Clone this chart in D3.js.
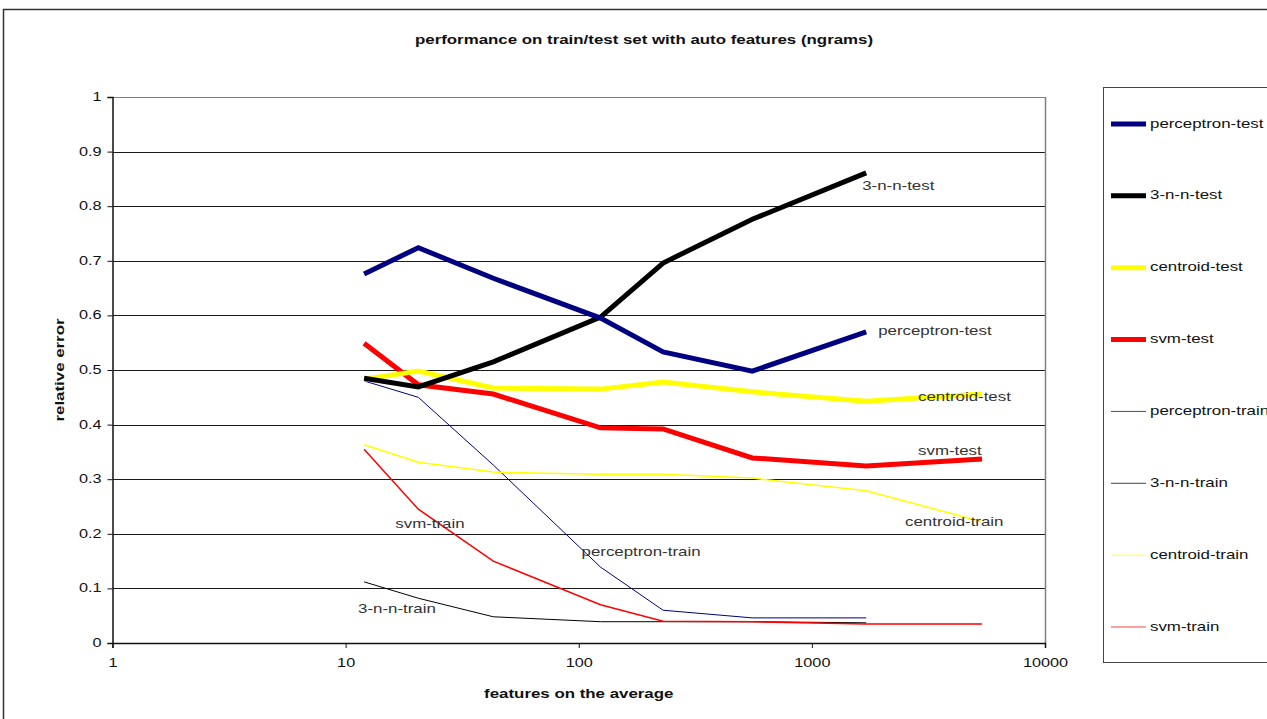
<!DOCTYPE html>
<html>
<head>
<meta charset="utf-8">
<script src="https://cdn.jsdelivr.net/npm/d3@7/dist/d3.min.js"></script>
<style>
  html, body { margin: 0; padding: 0; background: #fff; }
  svg { display: block; font-family: Arial, "Liberation Sans", sans-serif; }
</style>
</head>
<body>
<svg id="chart" width="1267" height="719"></svg>
<script>
// Average number of features per configuration (log scale on x)
const features = [12, 20.5, 43, 124, 230, 555, 1710, 5370];

// Relative error per classifier; null where the run was not made
const perceptronTest  = [0.676, 0.724, 0.668, 0.595, 0.533, 0.498, 0.570, null];
const knnTest         = [0.485, 0.469, 0.515, 0.597, 0.696, 0.776, 0.861, null];
const centroidTest    = [0.483, 0.498, 0.467, 0.465, 0.478, 0.460, 0.443, 0.456];
const svmTest         = [0.549, 0.473, 0.456, 0.394, 0.392, 0.339, 0.324, 0.337];
const perceptronTrain = [0.480, 0.450, 0.326, 0.139, 0.060, 0.046, 0.046, null];
const knnTrain        = [0.112, 0.082, 0.048, 0.039, 0.039, 0.039, 0.037, null];
const centroidTrain   = [0.363, 0.331, 0.313, 0.309, 0.309, 0.302, 0.279, 0.222];
const svmTrain        = [0.355, 0.245, 0.150, 0.070, 0.040, 0.039, 0.035, 0.035];

const seriesNames = ["perceptron-test", "3-n-n-test", "centroid-test", "svm-test",
                     "perceptron-train", "3-n-n-train", "centroid-train", "svm-train"];
const xTickValues = [1, 10, 100, 1000, 10000];
const yTickValues = [0, 0.1, 0.2, 0.3, 0.4, 0.5, 0.6, 0.7, 0.8, 0.9, 1];

const series = [
  { name: seriesNames[0], values: perceptronTest,  color: "#000080", width: 5 },
  { name: seriesNames[1], values: knnTest,         color: "#000000", width: 5 },
  { name: seriesNames[2], values: centroidTest,    color: "#ffff00", width: 5 },
  { name: seriesNames[3], values: svmTest,         color: "#ff0000", width: 5 },
  { name: seriesNames[4], values: perceptronTrain, color: "#000080", width: 1 },
  { name: seriesNames[5], values: knnTrain,        color: "#000000", width: 1 },
  { name: seriesNames[6], values: centroidTrain,   color: "#ffff00", width: 1.5 },
  { name: seriesNames[7], values: svmTrain,        color: "#ff0000", width: 1.5 }
];

// In-plot series labels: anchor point (data coords) plus pixel nudges
const inlineLabels = [
  { text: "3-n-n-test",       x: 1710, y: 0.861, dx: -4,  dy: 14 },
  { text: "perceptron-test",  x: 1710, y: 0.570, dx: 12,  dy: 0 },
  { text: "centroid-test",    x: 5370, y: 0.456, dx: -64, dy: 3 },
  { text: "svm-test",         x: 5370, y: 0.337, dx: -64, dy: -8 },
  { text: "centroid-train",   x: 5370, y: 0.222, dx: -77, dy: 1 },
  { text: "svm-train",        x: 20.5, y: 0.245, dx: -23, dy: 15 },
  { text: "perceptron-train", x: 124,  y: 0.139, dx: -19, dy: -15 },
  { text: "3-n-n-train",      x: 12,   y: 0.112, dx: -6,  dy: 28 }
];

// Text in this chart is set wide: Arial stretched horizontally
const STRETCH = 1.25;

const svg = d3.select("#chart");

// Outer chart frame
svg.append("rect")
  .attr("x", 3.5).attr("y", 9.5)
  .attr("width", 1300).attr("height", 730)
  .attr("fill", "none").attr("stroke", "#333").attr("stroke-width", 1.5);

const plot = { left: 112.5, right: 1045, top: 97, bottom: 643 };

const x = d3.scaleLog().domain([1, 10000]).range([plot.left, plot.right]);
const y = d3.scaleLinear().domain([0, 1]).range([plot.bottom, plot.top]);

// Place a stretched text item at (px, py)
function wideText(parent, px, py, str, opts = {}) {
  return parent.append("text")
    .attr("transform", `translate(${px},${py}) scale(${STRETCH},1)`)
    .attr("text-anchor", opts.anchor || "start")
    .attr("dominant-baseline", "middle")
    .attr("font-size", opts.size || 13)
    .attr("font-weight", opts.bold ? "bold" : null)
    .attr("fill", opts.fill || "#111")
    .text(str);
}

// Horizontal gridlines
svg.append("g")
  .selectAll("line")
  .data(yTickValues.filter(v => v > 0))
  .join("line")
  .attr("x1", plot.left).attr("x2", plot.right)
  .attr("y1", d => Math.round(y(d)) + 0.5).attr("y2", d => Math.round(y(d)) + 0.5)
  .attr("stroke", d => d === 1 ? "#808080" : "#1a1a1a")
  .attr("stroke-width", 1);

// Right edge of plot area
svg.append("line")
  .attr("x1", plot.right + 0.5).attr("x2", plot.right + 0.5)
  .attr("y1", plot.top).attr("y2", plot.bottom)
  .attr("stroke", "#808080").attr("stroke-width", 1.5);

// Y axis
const yAxis = d3.axisLeft(y).tickValues(yTickValues).tickSize(5).tickPadding(7)
  .tickFormat(d => d3.format("")(+d.toFixed(1)));
const gy = svg.append("g")
  .attr("transform", `translate(${plot.left},0)`)
  .call(yAxis);
gy.select(".domain").attr("stroke", "#111").attr("stroke-width", 1.5);
gy.selectAll(".tick line").attr("stroke", "#111");
gy.selectAll(".tick text")
  .attr("font-size", 13).attr("fill", "#111")
  .attr("font-family", "Arial, 'Liberation Sans', sans-serif")
  .attr("x", null).attr("dy", null)
  .attr("dominant-baseline", "middle")
  .attr("transform", `translate(-11,0) scale(${STRETCH},1)`);

// X axis
const xAxis = d3.axisBottom(x).tickValues(xTickValues).tickSize(5).tickPadding(9)
  .tickFormat(d3.format("d"));
const gx = svg.append("g")
  .attr("transform", `translate(0,${plot.bottom})`)
  .call(xAxis);
gx.select(".domain").attr("stroke", "#111").attr("stroke-width", 1.5);
gx.selectAll(".tick line").attr("stroke", "#111");
gx.selectAll(".tick text")
  .attr("font-size", 13).attr("fill", "#111")
  .attr("font-family", "Arial, 'Liberation Sans', sans-serif")
  .attr("y", null).attr("dy", null)
  .attr("dominant-baseline", "middle")
  .attr("transform", `translate(0,21) scale(${STRETCH},1)`);

// Series lines: thin train lines first, thick test lines on top
const line = d3.line()
  .defined(d => d.v !== null)
  .x(d => x(d.f))
  .y(d => y(d.v));

const drawOrder = [4, 5, 6, 7, 3, 2, 1, 0];
svg.append("g")
  .selectAll("path")
  .data(drawOrder.map(i => series[i]))
  .join("path")
  .attr("fill", "none")
  .attr("stroke", d => d.color)
  .attr("stroke-width", d => d.width)
  .attr("stroke-linejoin", "miter")
  .attr("d", d => line(d.values.map((v, i) => ({ f: features[i], v }))));

// Inline series labels
const labelLayer = svg.append("g");
inlineLabels.forEach(d => {
  wideText(labelLayer, x(d.x) + d.dx, y(d.y) + d.dy, d.text, { size: 13.5, fill: "#333" });
});

// Title and axis titles
wideText(svg, 644, 40, "performance on train/test set with auto features (ngrams)",
  { anchor: "middle", bold: true, size: 13.5 });

svg.append("text")
  .attr("transform", `translate(60,${(plot.top + plot.bottom) / 2}) rotate(-90) scale(${STRETCH},1)`)
  .attr("text-anchor", "middle")
  .attr("dominant-baseline", "middle")
  .attr("font-size", 13.5).attr("font-weight", "bold").attr("fill", "#111")
  .text("relative error");

wideText(svg, (plot.left + plot.right) / 2, 694, "features on the average",
  { anchor: "middle", bold: true, size: 13.5 });

// Legend (the box runs past the right edge of the canvas)
const legend = svg.append("g");
legend.append("rect")
  .attr("x", 1103.5).attr("y", 87.5)
  .attr("width", 200).attr("height", 575)
  .attr("fill", "#fff").attr("stroke", "#444").attr("stroke-width", 1);

const legendY = d3.scalePoint().domain(seriesNames).range([124, 627]);
const items = legend.selectAll("g.item")
  .data(series)
  .join("g")
  .attr("class", "item")
  .attr("transform", d => `translate(1111,${legendY(d.name)})`);
items.append("line")
  .attr("x1", 0).attr("x2", 35)
  .attr("stroke", d => d.color)
  .attr("stroke-width", d => d.width > 2 ? 5 : 1)
  .attr("stroke-opacity", d => d.width > 2 ? 1 : 0.75);
items.each(function (d) {
  wideText(d3.select(this), 39, 0, d.name, { size: 13.5, fill: "#111" });
});
</script>
</body>
</html>
